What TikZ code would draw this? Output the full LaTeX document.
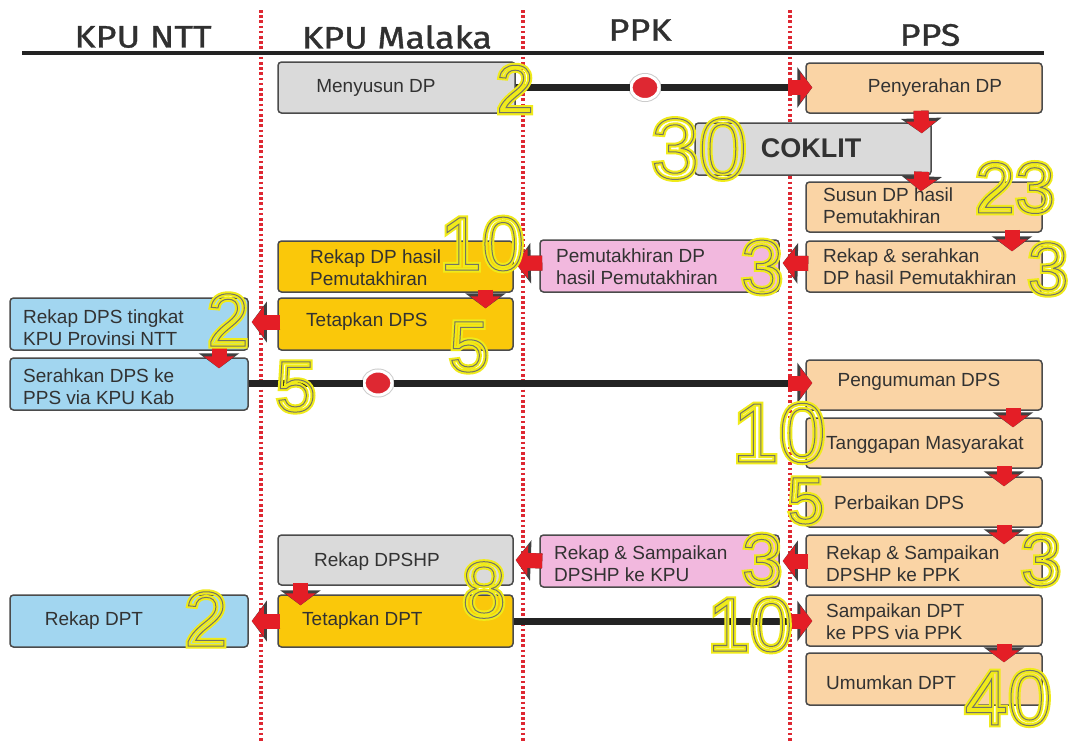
\documentclass[tikz,border=0pt]{standalone}
\usepackage{fontspec}
\setmainfont{Liberation Sans}
\newfontfamily\hdrfont{Fira Sans}[FakeBold=0.9]
\usepackage{graphicx}
\usetikzlibrary{arrows.meta,calc,shapes.geometric}
\definecolor{boxgray}{RGB}{218,218,218}
\definecolor{peach}{RGB}{250,212,165}
\definecolor{gold}{RGB}{250,200,10}
\definecolor{pinkc}{RGB}{242,184,222}
\definecolor{bluec}{RGB}{162,214,240}
\definecolor{boxline}{RGB}{75,75,75}
\definecolor{txtc}{RGB}{50,50,50}
\definecolor{hdc}{RGB}{48,48,48}
\definecolor{lnc}{RGB}{35,35,35}
\definecolor{arrowred}{RGB}{228,30,38}
\definecolor{dotred}{RGB}{222,40,50}
\newcommand\hnum[2]{\fontsize{#1}{#1}\selectfont\rlap{\special{pdf:literal direct 1 Tr 5 w 0.94 0.92 0.10 RG}#2}\special{pdf:literal direct 1 Tr 1 w 0.45 0.45 0.40 RG}#2\special{pdf:literal direct 0 Tr}}
\tikzset{
  bx/.style n args={3}{draw=boxline, line width=1.5pt, rounded corners=3.5pt, inner sep=0pt, fill=#1, minimum width=#2, minimum height=#3},
  txt/.style={font=\fontsize{19}{22}\selectfont, text=txtc, inner sep=0pt, align=left},
  hd/.style={font=\hdrfont\fontsize{31}{31}\selectfont, text=hdc, inner sep=0pt},
  conn/.style={draw=lnc, line width=7pt},
  arrred/.style={draw=arrowred, line width=15pt, -{Triangle[width=30pt,length=12pt]}},
  arrshd/.style={draw=black!75, line width=15pt, -{Triangle[width=40pt,length=15pt]}},
  reddot/.style={ellipse, fill=dotred, draw=white, line width=3pt, minimum width=28pt, minimum height=24pt, inner sep=0pt, preaction={draw=black!20, line width=5pt}},
  num/.style={inner sep=0pt, text=black, anchor=center},
  lane/.style={draw=dotred, line width=3.2pt, dash pattern=on 2.6pt off 2.6pt}
}
\newcommand\blockarrow[2]{\draw[arrshd] #1 -- #2; \draw[arrred] #1 -- #2;}
\begin{document}
\begin{tikzpicture}[x=1pt,y=-1pt]
\useasboundingbox (0,0) rectangle (1071,742);
\fill[white] (0,0) rectangle (1071,742);
% lanes
\draw[lane] (261,10) -- (261,742);
\draw[lane] (523,10) -- (523,742);
\draw[lane] (790,10) -- (790,742);
% headers
\node[hd] (hntt) at (143,37) {\scalebox{1.16}[1]{KPU NTT}};
\node[hd] (hmal) at (397,37) {\scalebox{1.16}[1]{KPU Malaka}};
\node[hd] (hppk) at (640,30) {\scalebox{1.16}[1]{PPK}};
\node[hd] (hpps) at (930,35) {\scalebox{1.16}[1]{PPS}};
\draw[lnc, line width=3.5pt] (22,53) -- (1044,53);
% boxes
\node[bx={boxgray}{237pt}{51pt}] (menyusun) at (396.5,87.5) {};
\node[bx={peach}{236pt}{50pt}] (penyerahan) at (924,88) {};
\node[bx={boxgray}{236pt}{52pt}] (coklit) at (813,149) {};
\node[bx={peach}{236pt}{50pt}] (susun) at (924,207) {};
\node[bx={peach}{236pt}{51pt}] (serahkan) at (924,266.5) {};
\node[bx={pinkc}{239pt}{52pt}] (pemut) at (659.5,266) {};
\node[bx={gold}{235pt}{51pt}] (rekapdp) at (395.5,266.5) {};
\node[bx={gold}{235pt}{52pt}] (tetapkandps) at (395.5,324) {};
\node[bx={bluec}{238pt}{52pt}] (rekapdps) at (129,324) {};
\node[bx={bluec}{238pt}{52pt}] (serahkandps) at (129,384) {};
\node[bx={peach}{236pt}{50pt}] (pengumuman) at (924,385) {};
\node[bx={peach}{236pt}{50pt}] (tanggapan) at (924,443) {};
\node[bx={peach}{236pt}{50pt}] (perbaikan) at (924,502) {};
\node[bx={peach}{236pt}{52pt}] (sampppk) at (924,561) {};
\node[bx={pinkc}{239pt}{52pt}] (sampkpu) at (659.5,561) {};
\node[bx={boxgray}{235pt}{50pt}] (rekapdpshp) at (395.5,560) {};
\node[bx={gold}{235pt}{52pt}] (tetapkandpt) at (395.5,621) {};
\node[bx={bluec}{238pt}{52pt}] (rekapdpt) at (129,621) {};
\node[bx={peach}{236pt}{51pt}] (sampdpt) at (924,620.5) {};
\node[bx={peach}{236pt}{52pt}] (umumkan) at (924,679) {};
% texts
\node[txt] (tmenyusun) at (376,88) {Menyusun DP};
\node[txt] (tpenyerahan) at (935,88) {Penyerahan DP};
\node[txt, font=\bfseries\fontsize{27}{27}\selectfont] (tcoklit) at (811,148) {COKLIT};
\node[txt, anchor=west] (tsusun) at (823,206) {Susun DP hasil\\Pemutakhiran};
\node[txt, anchor=west] (tserahkan) at (823,267) {Rekap \& serahkan\\DP hasil Pemutakhiran};
\node[txt, anchor=west] (tpemut) at (556,267) {Pemutakhiran DP\\hasil Pemutakhiran};
\node[txt, anchor=west] (trekapdp) at (310,268) {Rekap DP hasil\\Pemutakhiran};
\node[txt, anchor=west] (ttetapkandps) at (306,322) {Tetapkan DPS};
\node[txt, anchor=west] (trekapdps) at (23,328) {Rekap DPS tingkat\\KPU Provinsi NTT};
\node[txt, anchor=west] (tserahkandps) at (23,387) {Serahkan DPS ke\\PPS via KPU Kab};
\node[txt] (tpengumuman) at (919,382) {Pengumuman DPS};
\node[txt, anchor=west] (ttanggapan) at (826,445) {Tanggapan Masyarakat};
\node[txt, anchor=west] (tperbaikan) at (834,503) {Perbaikan DPS};
\node[txt, anchor=west] (tsampppk) at (826,564) {Rekap \& Sampaikan\\DPSHP ke PPK};
\node[txt, anchor=west] (tsampkpu) at (554,564) {Rekap \& Sampaikan\\DPSHP ke KPU};
\node[txt] (trekapdpshp) at (377,562) {Rekap DPSHP};
\node[txt, anchor=west] (ttetapkandpt) at (302,621) {Tetapkan DPT};
\node[txt] (trekapdpt) at (94,621) {Rekap DPT};
\node[txt, anchor=west] (tsampdpt) at (826,622) {Sampaikan DPT\\ke PPS via PPK};
\node[txt, anchor=west] (tumumkan) at (826,683) {Umumkan DPT};
% long connectors
\node[reddot] (dot1) at (645,87.5) {};
\draw[conn] (menyusun.east |- dot1) -- (dot1);
\draw[conn] (dot1) -- ($(penyerahan.west |- dot1)+(-16,0)$);
\blockarrow{($(penyerahan.west |- dot1)+(-17,0)$)}{($(penyerahan.west |- dot1)+(7,0)$)}
\node[reddot] (dot2) at (378,383) {};
\draw[conn] (serahkandps.east |- dot2) -- (dot2);
\draw[conn] (dot2) -- ($(pengumuman.west |- dot2)+(-16,0)$);
\blockarrow{($(pengumuman.west |- dot2)+(-17,0)$)}{($(pengumuman.west |- dot2)+(7,0)$)}
\coordinate (c3) at (tetapkandpt.east);
\draw[conn] (tetapkandpt.east) -- ($(sampdpt.west |- c3)+(-16,0)$);
\blockarrow{($(sampdpt.west |- c3)+(-17,0)$)}{($(sampdpt.west |- c3)+(7,0)$)}
% block arrows between boxes
\blockarrow{($(penyerahan.south)+(-3,-3)$)}{($(coklit.north east)+(-10,11)$)}
\blockarrow{($(coklit.south east)+(-10,-4)$)}{($(susun.north)+(-3,10)$)}
\blockarrow{($(susun.south)+(88,-3)$)}{($(serahkan.north)+(88,11)$)}
\blockarrow{($(serahkan.west)+(3,-3)$)}{($(pemut.east)+(3,-3)$)}
\blockarrow{($(pemut.west)+(3,-3)$)}{($(rekapdp.east)+(2,-3)$)}
\blockarrow{($(rekapdp.south)+(90,-3)$)}{($(tetapkandps.north)+(90,11)$)}
\blockarrow{($(tetapkandps.west)+(3,-2)$)}{($(rekapdps.east)+(3,-2)$)}
\blockarrow{($(rekapdps.south)+(90,-3)$)}{($(serahkandps.north)+(90,11)$)}
\blockarrow{($(pengumuman.south)+(89,-3)$)}{($(tanggapan.north)+(89,10)$)}
\blockarrow{($(tanggapan.south)+(80,-3)$)}{($(perbaikan.north)+(80,10)$)}
\blockarrow{($(perbaikan.south)+(80,-3)$)}{($(sampppk.north)+(80,10)$)}
\blockarrow{($(sampppk.west)+(3,0)$)}{($(sampkpu.east)+(3,0)$)}
\blockarrow{($(sampkpu.west)+(3,0)$)}{($(rekapdpshp.east)+(2,0)$)}
\blockarrow{($(rekapdpshp.south)+(-95,-3)$)}{($(tetapkandpt.north)+(-95,11)$)}
\blockarrow{($(tetapkandpt.west)+(3,0)$)}{($(rekapdpt.east)+(3,0)$)}
\blockarrow{($(sampdpt.south)+(80,-3)$)}{($(umumkan.north)+(80,10)$)}
% durations
\node[num] (n1) at (515,89) {\hnum{68}{2}};
\node[num] (n2) at (699,149) {\hnum{86}{30}};
\node[num] (n3) at (1015,188) {\hnum{72}{23}};
\node[num] (n4) at (1048,269) {\hnum{74}{3}};
\node[num] (n5) at (762,267) {\hnum{76}{3}};
\node[num] (n6) at (482,244) {\hnum{76}{10}};
\node[num] (n7) at (469,347) {\hnum{72}{5}};
\node[num] (n8) at (228,320) {\hnum{75}{2}};
\node[num] (n9) at (296,387) {\hnum{72}{5}};
\node[num] (n10) at (779,433) {\hnum{84}{10}};
\node[num] (n11) at (806,501) {\hnum{66}{5}};
\node[num] (n12) at (1041,560) {\hnum{73}{3}};
\node[num] (n13) at (762,560) {\hnum{73}{3}};
\node[num] (n14) at (484,590) {\hnum{80}{8}};
\node[num] (n15) at (206,619) {\hnum{78}{2}};
\node[num] (n16) at (750,625) {\hnum{76}{10}};
\node[num] (n17) at (1008,698) {\hnum{78}{40}};
\end{tikzpicture}
\end{document}
